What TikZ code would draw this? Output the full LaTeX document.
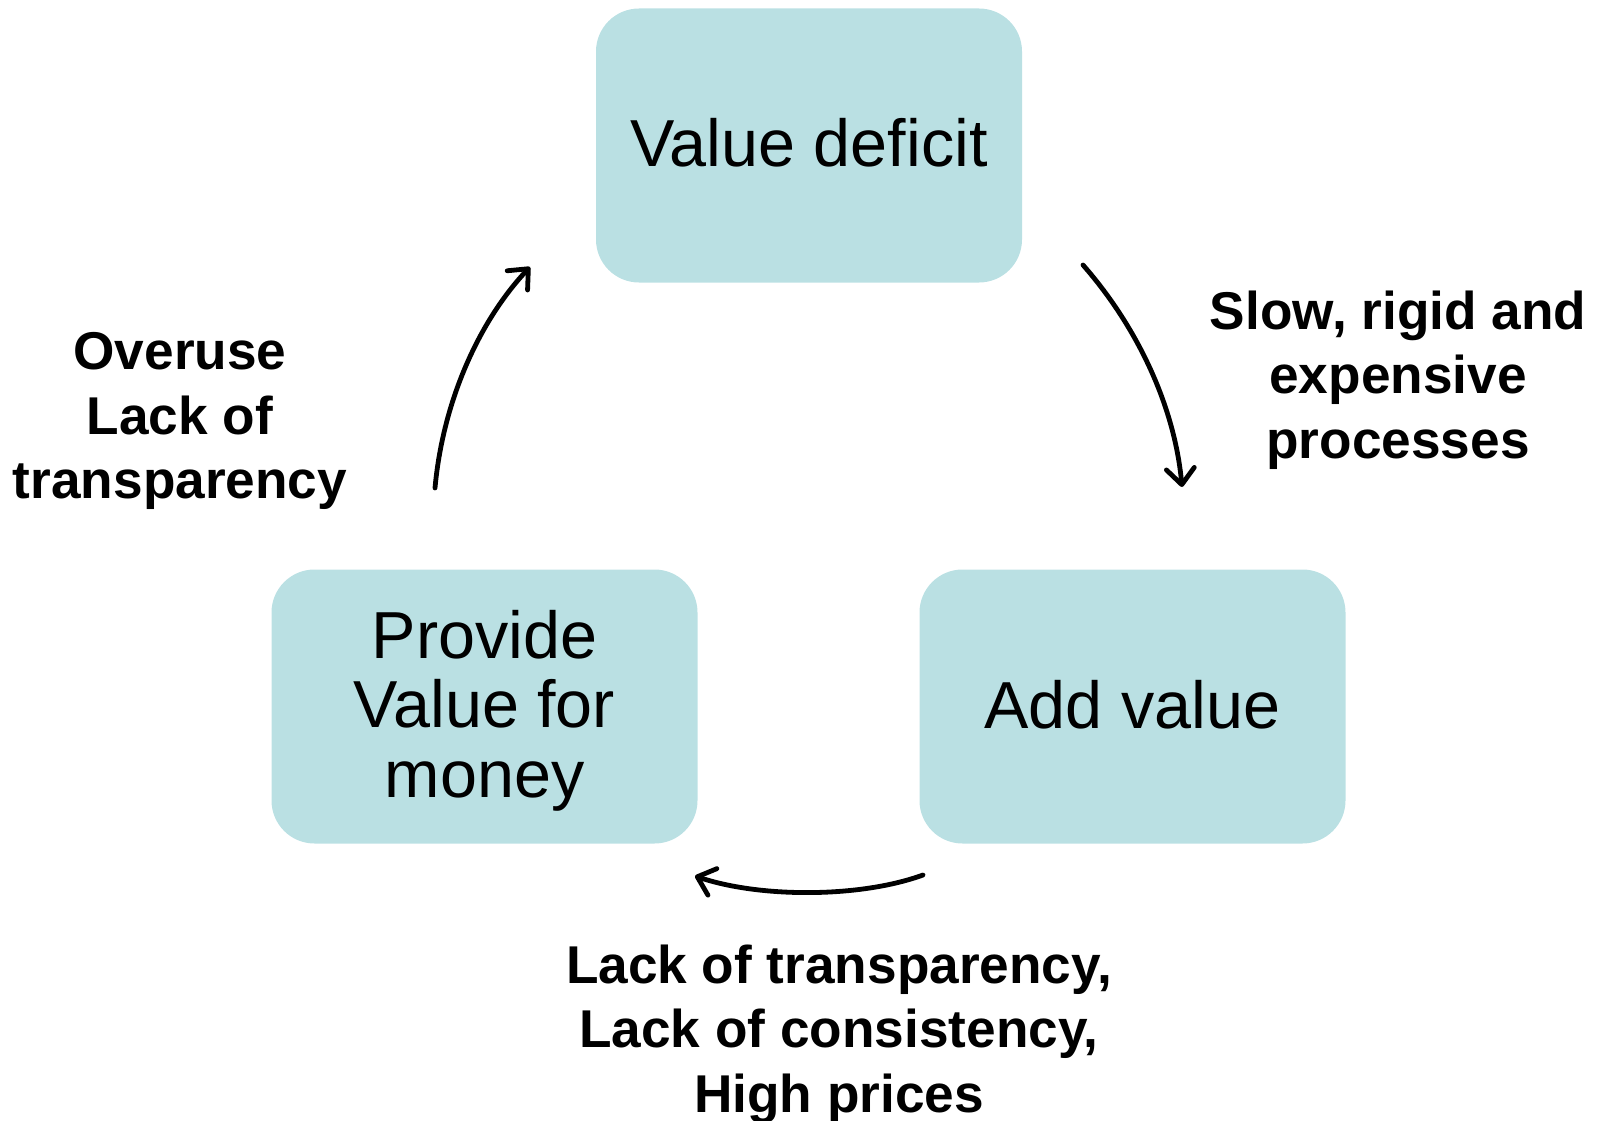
\documentclass[tikz,border=0pt]{standalone}
\usepackage{fontspec}
\setmainfont{Liberation Sans}
\usetikzlibrary{arrows.meta}
\definecolor{boxfill}{RGB}{186,224,227}
\begin{document}
\begin{tikzpicture}[x=1pt,y=-1pt,
  stagebox/.style={draw=none,fill=boxfill,rounded corners=43pt,
    minimum width=426pt,minimum height=274pt,inner sep=0pt},
  stagetext/.style={inner sep=0pt,align=center,
    font=\fontsize{66.5pt}{69.5pt}\selectfont},
  causelabel/.style={inner sep=0pt,align=center,
    font=\fontsize{53.2pt}{64.5pt}\selectfont\bfseries},
  cycarrow/.style={line width=4.8pt,line cap=round,
    -{Straight Barb[length=16pt,width=28pt,line cap=round,line join=round]}}]
  \useasboundingbox (0,0) rectangle (1601,1121);

  % three stages of the cycle
  \node[stagebox] (deficit) at (809,145.5) {};
  \node[stagebox] (add) at (1132.5,706.5) {};
  \node[stagebox] (provide) at (484.5,706.5) {};
  \node[stagetext] (deficit-text) at (809,142.5) {Value deficit};
  \node[stagetext] (add-text) at (1132.5,704.5) {Add value};
  \node[stagetext] (provide-text) at (484.5,710.5) {Provide\\Value for\\money};

  % causes between the stages
  \node[causelabel] (slow) at (1398,380) {Slow, rigid and\\expensive\\processes};
  \node[causelabel] (lack) at (839,1034) {Lack of transparency,\\Lack of consistency,\\High prices};
  \node[causelabel] (over) at (180,421) {Overuse\\Lack of\\transparency};

  % curved connectors
  \coordinate (a1) at (1083,265);
  \coordinate (a2) at (1182,487);
  \coordinate (b1) at (923,875);
  \coordinate (b2) at (695,876);
  \coordinate (c1) at (435,488);
  \coordinate (c2) at (530,267);
  \draw[cycarrow] (a1) .. controls (1140,330) and (1175,410) .. (a2);
  \draw[cycarrow] (b1) .. controls (860,898) and (760,898) .. (b2);
  \draw[cycarrow] (c1) .. controls (443,400) and (480,320) .. (c2);
\end{tikzpicture}
\end{document}
